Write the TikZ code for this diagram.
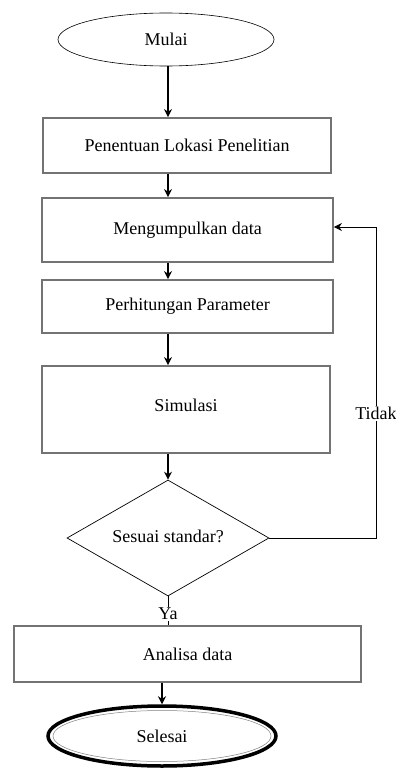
\documentclass[tikz,border=0pt]{standalone}
\usepackage{fontspec}
\setmainfont{Liberation Serif}
\usetikzlibrary{arrows.meta,shapes.geometric}

\begin{document}
\begin{tikzpicture}[
      x=1pt, y=-1pt,
      font=\fontsize{18}{20}\selectfont,
      >={Stealth[length=8pt,width=8pt]},
      terminal/.style={ellipse, draw, inner sep=0pt, line width=0.6pt},
      proc/.style={draw=black!55, line width=1.8pt, inner sep=0pt, minimum width=291pt},
      decision/.style={diamond, draw, line width=0.7pt, inner sep=0pt, aspect=1.74,
                       minimum width=202pt, minimum height=116pt},
      flow/.style={->, line width=1.5pt},
      back/.style={->, line width=0.8pt},
      lbl/.style={fill=white, inner sep=1pt},
    ]
    \useasboundingbox (0,0) rectangle (396,771);
    \coordinate (col) at (168,0);
    \coordinate (loopx) at (376,0);

    % --- start and the process boxes ------------------------------------------------
    \node[terminal, minimum width=216pt, minimum height=53pt] (mulai) at (166,39.5) {Mulai};
    \node[proc, minimum width=288pt, minimum height=55pt] (lokasi) at (187,145.5) {Penentuan Lokasi Penelitian};
    \node[proc, minimum height=64pt] (kumpul) at (187.5,230) {Mengumpulkan data};
    \node[proc, minimum height=53pt] (hitung) at (187.5,306.5) {Perhitungan Parameter};
    \node[proc, minimum width=288pt, minimum height=87pt] (simulasi) at (186,409.5) {\raisebox{9pt}{Simulasi}};

    % --- decision and the end --------------------------------------------------------
    \node[decision] (cek) at (168,538) {\raisebox{4pt}{Sesuai standar?}};
    \node[proc, minimum width=347pt, minimum height=56pt] (analisa) at (187.5,654) {Analisa data};
    \node[ellipse, draw, line width=3.5pt, inner sep=0pt, minimum width=228pt, minimum height=60pt] (selesai) at (162,736) {Selesai};
    \node[ellipse, draw=black!50, line width=0.5pt, inner sep=0pt, minimum width=218pt, minimum height=51pt] (selesaiin) at (selesai.center) {};

    \draw[flow] (mulai.south -| col) -- (lokasi.north -| col);
    \draw[flow] (lokasi.south -| col) -- (kumpul.north -| col);
    \draw[flow] (kumpul.south -| col) -- (hitung.north -| col);
    \draw[flow] (hitung.south -| col) -- (simulasi.north -| col);
    \draw[flow] (simulasi.south -| col) -- (cek.north);
    \draw[line width=0.6pt] (cek.south) -- node[lbl, pos=0.6] {Ya} (analisa.north -| cek.south);
    \draw[flow] (analisa.south -| selesai.north) -- (selesai.north);

    % --- loop back when not as required ----------------------------------------------
    \draw[back] (cek.east) -- (cek.east -| loopx)
      -- node[lbl, pos=0.4] {Tidak} ([yshift=3pt]kumpul.east -| loopx) -- ([yshift=3pt]kumpul.east);
  \end{tikzpicture}
\end{document}
